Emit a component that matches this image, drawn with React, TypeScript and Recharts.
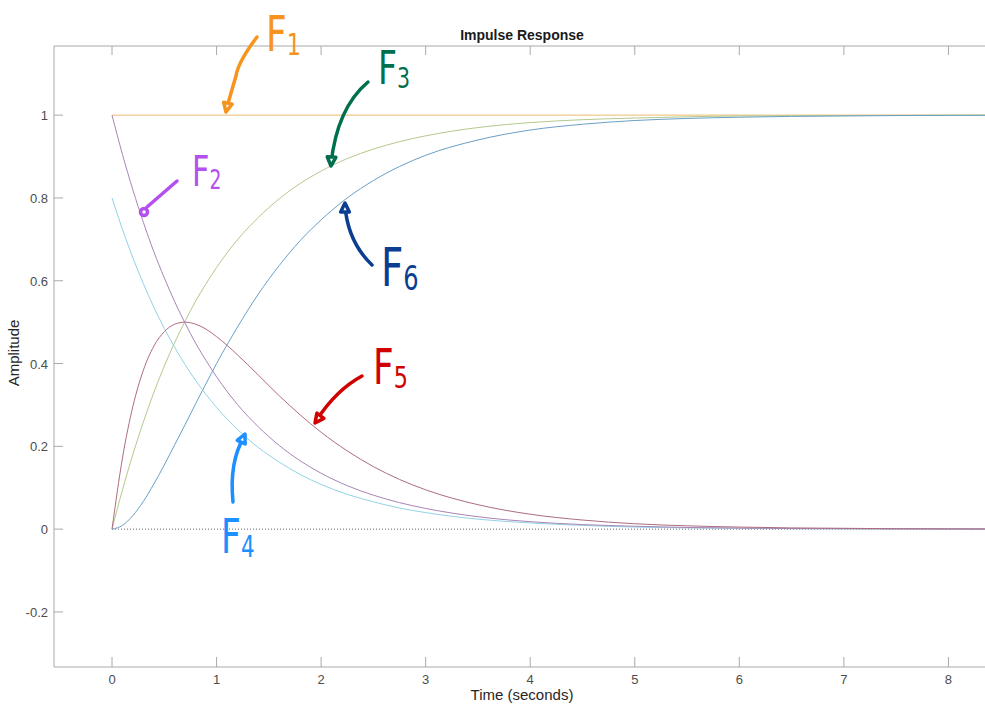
import React from 'react';
import { LineChart, Line, XAxis, YAxis, ReferenceLine } from 'recharts';

// time samples (seconds)
const time = [0, 0.1, 0.2, 0.3, 0.4, 0.5, 0.6, 0.7, 0.8, 0.9, 1.0, 1.2, 1.4, 1.6, 1.8, 2.0, 2.25, 2.5, 2.75, 3.0, 3.5, 4.0, 4.5, 5.0, 5.5, 6.0, 6.5, 7.0, 7.5, 8.0, 8.35];

// responses
const f1 = [1, 1, 1, 1, 1, 1, 1, 1, 1, 1, 1, 1, 1, 1, 1, 1, 1, 1, 1, 1, 1, 1, 1, 1, 1, 1, 1, 1, 1, 1, 1];
const f2 = [1, 0.905, 0.819, 0.741, 0.670, 0.607, 0.549, 0.497, 0.449, 0.407, 0.368, 0.301, 0.247, 0.202, 0.165, 0.135, 0.105, 0.082, 0.064, 0.050, 0.030, 0.018, 0.011, 0.007, 0.004, 0.0025, 0.0015, 0.001, 0.0006, 0.0003, 0.0002];
const f3 = [0, 0.095, 0.181, 0.259, 0.330, 0.394, 0.451, 0.503, 0.551, 0.593, 0.632, 0.699, 0.753, 0.798, 0.835, 0.865, 0.895, 0.918, 0.936, 0.950, 0.970, 0.982, 0.989, 0.993, 0.996, 0.998, 0.9985, 0.999, 0.9995, 0.9997, 0.9998];
const f4 = [0.8, 0.724, 0.655, 0.593, 0.536, 0.485, 0.439, 0.397, 0.359, 0.325, 0.294, 0.241, 0.197, 0.162, 0.132, 0.108, 0.084, 0.066, 0.051, 0.040, 0.024, 0.015, 0.009, 0.005, 0.003, 0.002, 0.001, 0.0007, 0.0005, 0.0003, 0.0002];
const f5 = [0, 0.172, 0.297, 0.384, 0.442, 0.477, 0.495, 0.500, 0.495, 0.483, 0.465, 0.421, 0.372, 0.322, 0.276, 0.234, 0.189, 0.151, 0.120, 0.095, 0.059, 0.036, 0.022, 0.013, 0.008, 0.005, 0.003, 0.002, 0.001, 0.0006, 0.0004];
const f6 = [0, 0.009, 0.033, 0.067, 0.109, 0.155, 0.204, 0.253, 0.303, 0.352, 0.400, 0.488, 0.568, 0.637, 0.697, 0.747, 0.800, 0.842, 0.876, 0.903, 0.940, 0.964, 0.978, 0.987, 0.992, 0.995, 0.997, 0.998, 0.999, 0.9994, 0.9996];

const xTicks = [0, 1, 2, 3, 4, 5, 6, 7, 8];
const yTicks = [-0.2, 0, 0.2, 0.4, 0.6, 0.8, 1];
const Y_MAX = 1.167;

const rows = time.map((t, i) => ({ t, f1: f1[i], f2: f2[i], f3: f3[i], f4: f4[i], f5: f5[i], f6: f6[i] }));

const AXIS = '#a9a9a9';
const TEXT = '#4d4d4d';
const FONT = '"Liberation Sans", Arial, sans-serif';
const TOP = 46;

// bottom tick: inward mark, label below, plus the matching mark on the top frame
const BottomTick = (props: any) => {
    const { x, y, payload } = props;
    return (
        <g>
            <line x1={x} y1={y} x2={x} y2={y - 10} stroke={AXIS} />
            <line x1={x} y1={TOP} x2={x} y2={TOP + 9} stroke={AXIS} />
            <text x={x} y={y + 17} textAnchor="middle" fontSize={13} fill={TEXT} fontFamily={FONT}>{payload.value}</text>
        </g>
    );
};

const LeftTick = (props: any) => {
    const { x, y, payload } = props;
    return (
        <g>
            <line x1={x} y1={y} x2={x + 9} y2={y} stroke={AXIS} />
            <text x={x - 6} y={y + 5} textAnchor="end" fontSize={13} fill={TEXT} fontFamily={FONT}>{payload.value}</text>
        </g>
    );
};

// hand-drawn style arrow with a triangular head at the tip
const Arrow = ({ d, tip, from, color }: { d: string; tip: number[]; from: number[]; color: string }) => {
    const ang = Math.atan2(tip[1] - from[1], tip[0] - from[0]);
    const s = 10;
    const a1 = ang + Math.PI - 0.45;
    const a2 = ang + Math.PI + 0.45;
    const p1 = [tip[0] + s * Math.cos(a1), tip[1] + s * Math.sin(a1)];
    const p2 = [tip[0] + s * Math.cos(a2), tip[1] + s * Math.sin(a2)];
    return (
        <g stroke={color} strokeWidth={3.5} strokeLinecap="round" strokeLinejoin="round" fill="none">
            <path d={d} />
            <path d={`M${p1[0]} ${p1[1]} L${tip[0]} ${tip[1]} L${p2[0]} ${p2[1]} Z`} fill="white" />
        </g>
    );
};

// handwritten-looking "F" with a subscript, narrowed horizontally
const Tag = ({ x, y, sub, size, color }: { x: number; y: number; sub: string; size: number; color: string }) => (
    <text transform={`translate(${x} ${y}) scale(0.72 1)`} fill={color} fontSize={size} fontFamily="'DejaVu Sans', sans-serif">
        F<tspan fontSize={size * 0.62} dx={0} dy={size * 0.08}>{sub}</tspan>
    </text>
);

export default function App() {
    return (
        <div style={{ position: 'relative', width: 985, height: 707, background: '#fff' }}>
            <style>{'body{margin:0}'}</style>
            <LineChart width={985} height={707} data={rows} margin={{ top: TOP, right: 0, bottom: 0, left: 0 }}>
                <XAxis dataKey="t" type="number" domain={[-0.555, 8.35]} ticks={xTicks} allowDataOverflow
                    height={40} tickSize={0} tickMargin={0} tickLine={false} stroke={AXIS} tick={BottomTick} />
                <YAxis type="number" domain={[-0.333, Y_MAX]} ticks={yTicks} allowDataOverflow
                    width={54} tickSize={0} tickMargin={0} tickLine={false} stroke={AXIS} tick={LeftTick} />
                <ReferenceLine y={Y_MAX} stroke={AXIS} />
                <ReferenceLine segment={[{ x: 0, y: 0 }, { x: 8.35, y: 0 }]} stroke="#666" strokeDasharray="1 2" />
                <Line dataKey="f1" type="monotone" stroke="#eec98a" strokeWidth={1.2} dot={false} isAnimationActive={false} />
                <Line dataKey="f3" type="monotone" stroke="#b4c98c" strokeWidth={1} dot={false} isAnimationActive={false} />
                <Line dataKey="f6" type="monotone" stroke="#6a9fc6" strokeWidth={1} dot={false} isAnimationActive={false} />
                <Line dataKey="f4" type="monotone" stroke="#92d2e6" strokeWidth={1} dot={false} isAnimationActive={false} />
                <Line dataKey="f2" type="monotone" stroke="#a885b6" strokeWidth={1} dot={false} isAnimationActive={false} />
                <Line dataKey="f5" type="monotone" stroke="#ad6c80" strokeWidth={1} dot={false} isAnimationActive={false} />
            </LineChart>
            <svg width={985} height={707} style={{ position: 'absolute', left: 0, top: 0, pointerEvents: 'none' }}>
                <text x={522} y={40} textAnchor="middle" fontSize={14} fontWeight="bold" fill="#1a1a1a" fontFamily={FONT}>Impulse Response</text>
                <text x={522} y={700} textAnchor="middle" fontSize={15} fill="#262626" fontFamily={FONT}>Time (seconds)</text>
                <text x={19} y={353} textAnchor="middle" fontSize={15} fill="#262626" fontFamily={FONT} transform="rotate(-90 19 353)">Amplitude</text>

                <Arrow d="M257 37 Q238 62 236 76 Q230 96 226 111" tip={[226, 112]} from={[229, 98]} color="#f7941d" />
                <Tag x={266} y={51} sub="1" size={50} color="#f7941d" />

                <g stroke="#b44ff0" strokeWidth={3.5} strokeLinecap="round" fill="none">
                    <path d="M177 181 L147 207" />
                    <circle cx={144} cy={212} r={3.5} />
                </g>
                <Tag x={192} y={186} sub="2" size={42} color="#b44ff0" />

                <Arrow d="M368 82 Q337 108 331 164" tip={[331, 166]} from={[332, 150]} color="#006f4e" />
                <Tag x={378} y={84} sub="3" size={46} color="#006f4e" />

                <Arrow d="M372 265 Q348 242 345 206" tip={[345, 203]} from={[345, 218]} color="#0b3e91" />
                <Tag x={381} y={286} sub="6" size={54} color="#0b3e91" />

                <Arrow d="M362 376 Q336 390 316 421" tip={[315, 423]} from={[324, 411]} color="#d10000" />
                <Tag x={373} y={384} sub="5" size={50} color="#d10000" />

                <Arrow d="M233 502 Q229 462 244 437" tip={[245, 434]} from={[239, 447]} color="#1e8fff" />
                <Tag x={221} y={553} sub="4" size={48} color="#1e8fff" />
            </svg>
        </div>
    );
}
